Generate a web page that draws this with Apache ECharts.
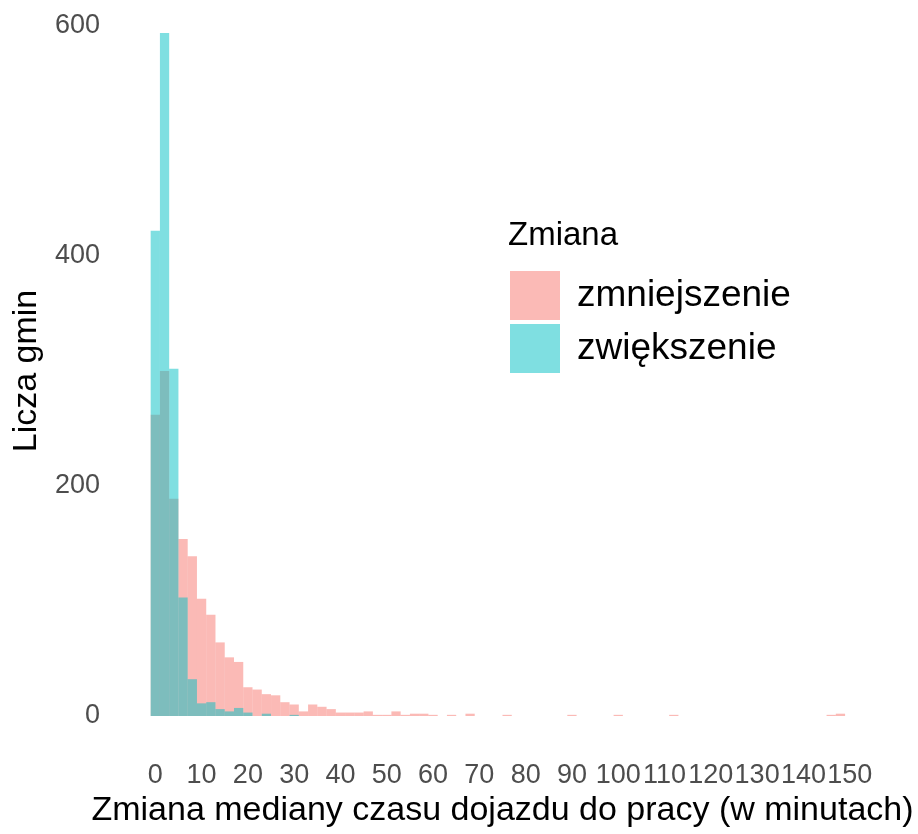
<!DOCTYPE html>
<html>
<head>
<meta charset="utf-8">
<script src="https://cdn.jsdelivr.net/npm/echarts@6/dist/echarts.min.js"></script>
<style>
  html, body { margin: 0; padding: 0; background: #fff; }
  #chart { width: 918px; height: 834px; }
</style>
</head>
<body>
<div id="chart"></div>
<script>
/* ===== dane: histogram, szerokość przedziału 2 min, środki 0, 2, 4 ... 148 ===== */
const binWidth = 2;
const firstCenter = 0;

// liczba gmin, w których mediana czasu dojazdu spadła
const zmniejszenie = [
  262, 300, 189, 154, 139, 102, 88, 64, 51, 47,
  25, 23, 19, 18, 12, 10, 4, 10, 8, 6,
  3, 3, 3, 4, 1, 1, 4, 1, 2, 2,
  1, 0, 1, 0, 2, 0, 0, 0, 1, 0,
  0, 0, 0, 0, 0, 1, 0, 0, 0, 0,
  1, 0, 0, 0, 0, 0, 1, 0, 0, 0,
  0, 0, 0, 0, 0, 0, 0, 0, 0, 0,
  0, 0, 0, 1, 2
];

// liczba gmin, w których mediana czasu dojazdu wzrosła
const zwiekszenie = [
  422, 594, 302, 103, 32, 11, 12, 6, 4, 7,
  3, 0, 2, 0, 0, 1
];

const xTicks = [0, 10, 20, 30, 40, 50, 60, 70, 80, 90, 100, 110, 120, 130, 140, 150];
const yTicks = [0, 200, 400, 600];

const colors = {
  zmniejszenie: 'rgba(248,118,109,0.5)',
  zwiekszenie: 'rgba(0,191,196,0.5)'
};

/* ===== przedziały -> [początek, koniec, liczba] ===== */
function toBins(counts) {
  return counts.map((c, i) => {
    const mid = firstCenter + i * binWidth;
    return [mid - binWidth / 2, mid + binWidth / 2, c];
  });
}

function histRender(color) {
  return function (params, api) {
    const n = api.value(2);
    if (!n) return null;
    const p0 = api.coord([api.value(0), 0]);
    const p1 = api.coord([api.value(1), n]);
    return {
      type: 'rect',
      shape: { x: p0[0], y: p1[1], width: p1[0] - p0[0], height: p0[1] - p1[1] },
      style: { fill: color }
    };
  };
}

const chart = echarts.init(document.getElementById('chart'));
const font = 'Liberation Sans, Arial, sans-serif';

chart.setOption({
  backgroundColor: '#fff',
  animation: false,
  textStyle: { fontFamily: font },
  title: {
    text: 'Zmiana',
    left: 503,
    top: 214,
    textStyle: { fontFamily: font, fontSize: 33, fontWeight: 'normal', color: '#000' }
  },
  legend: {
    orient: 'vertical',
    left: 505,
    top: 266,
    itemWidth: 50,
    itemHeight: 49,
    itemGap: 4,
    icon: 'rect',
    textStyle: { fontFamily: font, fontSize: 37, color: '#000', padding: [0, 0, 0, 12] },
    data: [
      { name: 'zmniejszenie', itemStyle: { color: colors.zmniejszenie } },
      { name: 'zwiększenie', itemStyle: { color: colors.zwiekszenie } }
    ]
  },
  grid: { left: 109, right: 22, top: 26, bottom: 118, containLabel: false, outerBoundsMode: 'none' },
  xAxis: {
    type: 'value',
    min: -10,
    max: 160,
    interval: 10,
    axisLine: { show: false },
    axisTick: { show: false },
    splitLine: { show: false },
    axisLabel: {
      margin: 46,
      fontSize: 27,
      color: '#4d4d4d',
      formatter: v => (xTicks.includes(v) ? String(v) : '')
    },
    name: 'Zmiana mediany czasu dojazdu do pracy (w minutach)',
    nameLocation: 'middle',
    nameGap: 75,
    nameTextStyle: { fontSize: 34, color: '#000' }
  },
  yAxis: {
    type: 'value',
    min: yTicks[0],
    max: yTicks[yTicks.length - 1],
    interval: 200,
    axisLine: { show: false },
    axisTick: { show: false },
    splitLine: { show: false },
    axisLabel: { margin: 9, fontSize: 27, color: '#4d4d4d' },
    name: 'Licza gmin',
    nameLocation: 'middle',
    nameGap: 62,
    nameTextStyle: { fontSize: 34, color: '#000' }
  },
  series: [
    {
      name: 'zmniejszenie',
      type: 'custom',
      renderItem: histRender(colors.zmniejszenie),
      encode: { x: [0, 1], y: 2 },
      itemStyle: { color: colors.zmniejszenie },
      data: toBins(zmniejszenie),
      z: 1
    },
    {
      name: 'zwiększenie',
      type: 'custom',
      renderItem: histRender(colors.zwiekszenie),
      encode: { x: [0, 1], y: 2 },
      itemStyle: { color: colors.zwiekszenie },
      data: toBins(zwiekszenie),
      z: 2
    }
  ]
});
</script>
</body>
</html>
